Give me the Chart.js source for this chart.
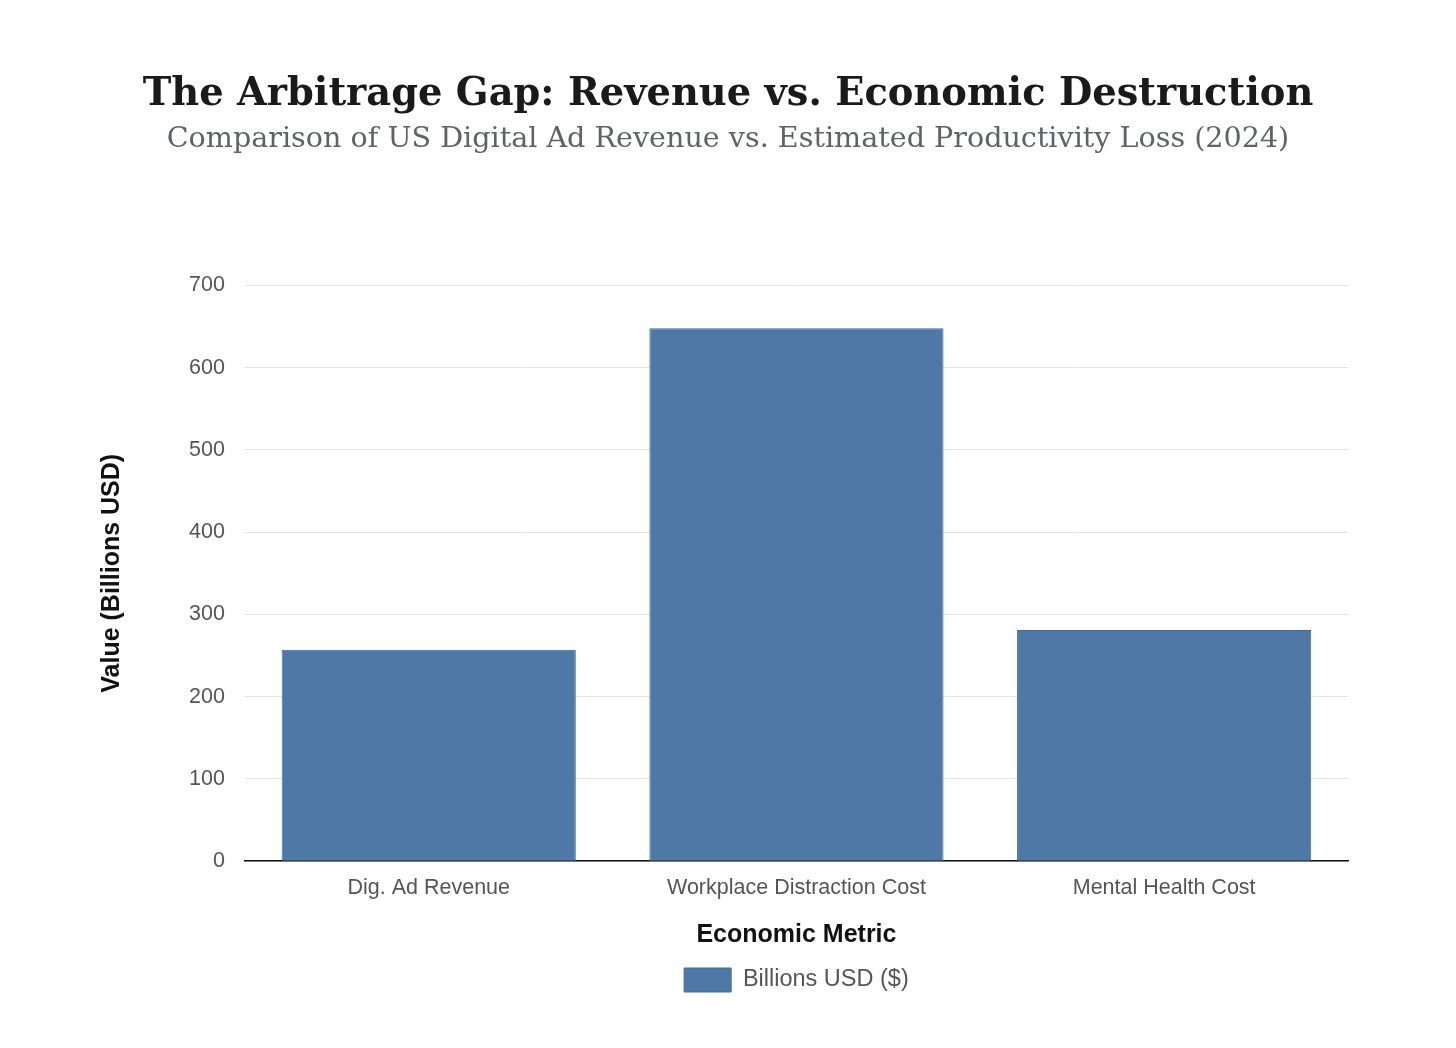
<!DOCTYPE html>
<html>
<head>
<meta charset="utf-8">
<script src="https://cdn.jsdelivr.net/npm/chart.js@4"></script>
<style>
  html, body { margin: 0; padding: 0; background: #fff; }
  #wrap { width: 1456px; height: 1048px; }
</style>
</head>
<body>
<div id="wrap"><canvas id="chart"></canvas></div>
<script>
const categories = ['Dig. Ad Revenue', 'Workplace Distraction Cost', 'Mental Health Cost'];
const billionsUsd = [257, 648, 281];
const yTicks = [0, 100, 200, 300, 400, 500, 600, 700];

// titles centred on the page, legend centred under the plot area
const centerBoxes = {
    id: 'centerBoxes',
    afterLayout(chart) {
        chart.boxes.filter(b => b.position === 'top' && !b.axis).forEach(b => {
            b.left = 0;
            b.right = chart.width;
            b.width = chart.width;
        });
        const lg = chart.legend;
        lg.left = chart.chartArea.left;
        lg.right = chart.chartArea.right;
        lg.width = lg.right - lg.left;
    }
};

const ctx = document.getElementById('chart');

new Chart(ctx, {
    type: 'bar',
    data: {
        labels: categories,
        datasets: [
            {
                label: 'Billions USD ($)',
                data: billionsUsd,
                backgroundColor: '#4e79a7',
                borderColor: '#3e6a99',
                borderWidth: 1,
                categoryPercentage: 0.8,
                barPercentage: 1.0,
            },
        ]
    },
    options: {
        responsive: true,
        maintainAspectRatio: false,
        animation: false,
        layout: {
            padding: { top: 72, left: 93, right: 108, bottom: 46 }
        },
        plugins: {
            title: {
                display: true,
                text: 'The Arbitrage Gap: Revenue vs. Economic Destruction',
                color: '#1a1a1a',
                font: { family: 'DejaVu Serif', size: 38.4, weight: 'bold' },
                padding: { top: 0, bottom: 4 }
            },
            subtitle: {
                display: true,
                text: 'Comparison of US Digital Ad Revenue vs. Estimated Productivity Loss (2024)',
                color: '#5f6368',
                font: { family: 'DejaVu Serif', size: 28.6 },
                padding: { top: 0, bottom: 129 }
            },
            legend: {
                position: 'bottom',
                labels: {
                    color: '#555',
                    boxWidth: 47,
                    boxHeight: 24,
                    font: { family: 'Liberation Sans', size: 23.5 },
                    padding: 10
                }
            },
            tooltip: { enabled: false }
        },
        scales: {
            x: {
                grid: { display: false, drawTicks: false },
                border: { display: true, color: '#111', width: 1.5 },
                ticks: {
                    color: '#555',
                    padding: 14,
                    font: { family: 'Liberation Sans', size: 21.5 }
                },
                title: {
                    display: true,
                    text: 'Economic Metric',
                    color: '#111',
                    font: { family: 'Liberation Sans', size: 25, weight: 'bold' },
                    padding: { top: 5, bottom: 8 }
                }
            },
            y: {
                min: 0,
                max: 700,
                afterBuildTicks: (axis) => { axis.ticks = yTicks.map(v => ({ value: v })); },
                grid: { color: '#e3e3e3', drawTicks: false, lineWidth: 1 },
                border: { display: false },
                ticks: {
                    color: '#555',
                    padding: 20,
                    font: { family: 'Liberation Sans', size: 21.5 }
                },
                title: {
                    display: true,
                    text: 'Value (Billions USD)',
                    color: '#111',
                    font: { family: 'Liberation Sans', size: 25, weight: 'bold' },
                    padding: { bottom: 42 }
                }
            }
        }
    },
    plugins: [centerBoxes]
});
</script>
</body>
</html>
